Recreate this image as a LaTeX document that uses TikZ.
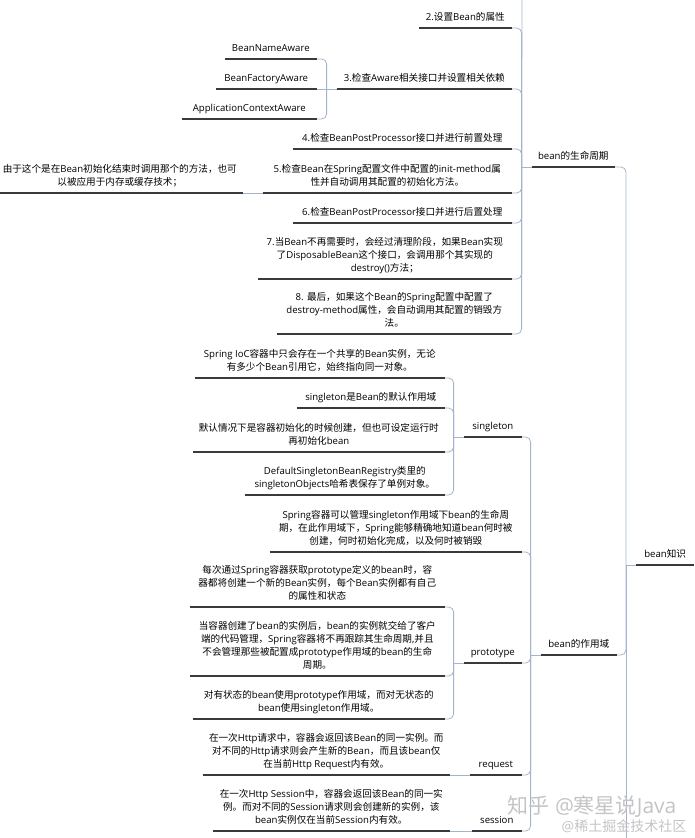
\documentclass[tikz,border=0pt]{standalone}
\usepackage{fontspec}
\setmainfont{Open Sans}
\newfontfamily\hanfont{Noto Sans CJK SC}
\XeTeXinterchartokenstate=1
\newXeTeXintercharclass\hanclass
\newcount\hanchar
\def\sethanrange#1#2{\hanchar=#1\relax\loop\XeTeXcharclass\hanchar=\hanclass\ifnum\hanchar<#2\advance\hanchar by 1\repeat}
\sethanrange{"3000}{"303F}
\sethanrange{"4E00}{"9FFF}
\sethanrange{"FF00}{"FFEF}
\XeTeXinterchartoks 0 \hanclass={\hanfont}
\XeTeXinterchartoks 4095 \hanclass={\hanfont}
\XeTeXinterchartoks \hanclass 0={\rmfamily}
\XeTeXinterchartoks \hanclass 4095={\rmfamily}
\definecolor{ulinecol}{HTML}{3A3A3A}
\definecolor{wirecol}{HTML}{A3B4CC}
\definecolor{markcol}{HTML}{C4C4C4}
\begin{document}
\begin{tikzpicture}[x=1pt,y=-1pt,
		leaf/.style={anchor=south east,align=center,inner xsep=0pt,inner ysep=5pt,text depth=2.5pt,text=black,font=\fontsize{9.6}{13}\selectfont},
		uline/.style={draw=ulinecol,line width=1.3pt},
		wire/.style={draw=wirecol,line width=0.8pt,rounded corners=5pt},
		wmark/.style={text=markcol,inner sep=0pt}]
	\path[use as bounding box] (0,0) rectangle (695,838);
	\clip (0,0) rectangle (695,838);
	\node[leaf,anchor=south west,minimum width=58] (root) at (636,565) {bean知识};
	\node[leaf,minimum width=83] (life) at (615,167) {bean的生命周期};
	\node[leaf,minimum width=76] (scope) at (617,655) {bean的作用域};
	\coordinate (rootmore) at (626,860);
	\coordinate (lifemore) at (522,-12);
	\node[leaf,minimum width=93] (l2) at (512,28) {2.设置Bean的属性};
	\node[leaf,minimum width=175] (l3) at (512,89) {3.检查Aware相关接口并设置相关依赖};
	\node[leaf,minimum width=219] (l4) at (512,149) {4.检查BeanPostProcessor接口并进行前置处理};
	\node[leaf,minimum width=249] (l5) at (512,193) {5.检查Bean在Spring配置文件中配置的init-method属\\性并自动调用其配置的初始化方法。};
	\node[leaf,minimum width=219] (l6) at (512,223) {6.检查BeanPostProcessor接口并进行后置处理};
	\node[leaf,minimum width=254] (l7) at (512,279) {7.当Bean不再需要时，会经过清理阶段，如果Bean实现\\了DisposableBean这个接口，会调用那个其实现的\\destroy()方法；};
	\node[leaf,minimum width=235] (l8) at (512,334) {8. 最后，如果这个Bean的Spring配置中配置了\\destroy-method属性，会自动调用其配置的销毁方\\法。};
	\node[leaf,minimum width=92] (a1) at (317,59) {BeanNameAware};
	\node[leaf,minimum width=101] (a2) at (317,89) {BeanFactoryAware};
	\node[leaf,minimum width=135] (a3) at (317,119) {ApplicationContextAware};
	\node[leaf,minimum width=246] (n5) at (243,193) {由于这个是在Bean初始化结束时调用那个的方法，也可\\以被应用于内存或缓存技术；};
	\node[leaf,minimum width=58] (sg) at (522,437) {singleton};
	\node[leaf,minimum width=252] (sc) at (522,552) {Spring容器可以管理singleton作用域下bean的生命周\\期，在此作用域下，Spring能够精确地知道bean何时被\\创建，何时初始化完成，以及何时被销毁};
	\node[leaf,minimum width=58] (pt) at (522,663) {prototype};
	\node[leaf,minimum width=52] (rq) at (522,775) {request};
	\node[leaf,minimum width=50] (ss) at (522,831) {session};
	\node[leaf,minimum width=250] (s1) at (445,378) {Spring IoC容器中只会存在一个共享的Bean实例，无论\\有多少个Bean引用它，始终指向同一对象。};
	\node[leaf,minimum width=148] (s2) at (445,408) {singleton是Bean的默认作用域};
	\node[leaf,minimum width=252] (s3) at (445,452) {默认情况下是容器初始化的时候创建，但也可设定运行时\\再初始化bean};
	\node[leaf,minimum width=200] (s4) at (445,495) {DefaultSingletonBeanRegistry类里的\\singletonObjects哈希表保存了单例对象。};
	\node[leaf,minimum width=255] (p1) at (445,607) {每次通过Spring容器获取prototype定义的bean时，容\\器都将创建一个新的Bean实例，每个Bean实例都有自己\\的属性和状态};
	\node[leaf,minimum width=255] (p2) at (445,676) {当容器创建了bean的实例后，bean的实例就交给了客户\\端的代码管理，Spring容器将不再跟踪其生命周期,并且\\不会管理那些被配置成prototype作用域的bean的生命\\周期。};
	\node[leaf,minimum width=252] (p3) at (445,719) {对有状态的bean使用prototype作用域，而对无状态的\\bean使用singleton作用域。};
	\node[leaf,minimum width=247] (r1) at (450,775) {在一次Http请求中，容器会返回该Bean的同一实例。而\\对不同的Http请求则会产生新的Bean，而且该bean仅\\在当前Http Request内有效。};
	\node[leaf,minimum width=237] (e1) at (450,831) {在一次Http Session中，容器会返回该Bean的同一实\\例。而对不同的Session请求则会创建新的实例，该\\bean实例仅在当前Session内有效。};
	\draw[wire] (root.south west) -- ++(-10,0) coordinate (jr);
	\foreach \c in {life,scope} \draw[wire] (jr) |- (\c.south east);
	\draw[wire] (jr) -- (rootmore);
	\draw[wire] (life.south west) -- ++(-10,0) coordinate (jl);
	\foreach \c in {l2,l3,l4,l5,l6,l7,l8} \draw[wire] (jl) |- (\c.south east);
	\draw[wire] (jl) -- (lifemore);
	\draw[wire] (l3.south west) -- ++(-10,0) coordinate (ja);
	\foreach \c in {a1,a3} \draw[wire] (ja) |- (\c.south east);
	\draw[wire] (ja) -- (a2.south east);
	\draw[wire] (l5.south west) -- (n5.south east);
	\draw[wire] (scope.south west) -- ++(-10,0) coordinate (js);
	\foreach \c in {sg,sc,pt,rq,ss} \draw[wire] (js) |- (\c.south east);
	\draw[wire] (sg.south west) -- ++(-10,0) coordinate (jg);
	\foreach \c in {s1,s2,s3,s4} \draw[wire] (jg) |- (\c.south east);
	\draw[wire] (pt.south west) -- ++(-10,0) coordinate (jp);
	\foreach \c in {p1,p2,p3} \draw[wire] (jp) |- (\c.south east);
	\draw[wire] (rq.south west) -- (r1.south east);
	\draw[wire] (ss.south west) -- (e1.south east);
	\foreach \n in {root,life,scope,l2,l3,l4,l5,l6,l7,l8,a1,a2,a3,n5,sg,sc,pt,rq,ss,s1,s2,s3,s4,p1,p2,p3,r1,e1}
		\draw[uline] (\n.south west) -- (\n.south east);
	\node[wmark,font=\fontsize{21}{21}\selectfont] (wm1) at (592,807) {知乎 @寒星说Java};
	\node[wmark,font=\fontsize{14}{14}\selectfont] (wm2) at (624,826) {@稀土掘金技术社区};
\end{tikzpicture}
\end{document}
